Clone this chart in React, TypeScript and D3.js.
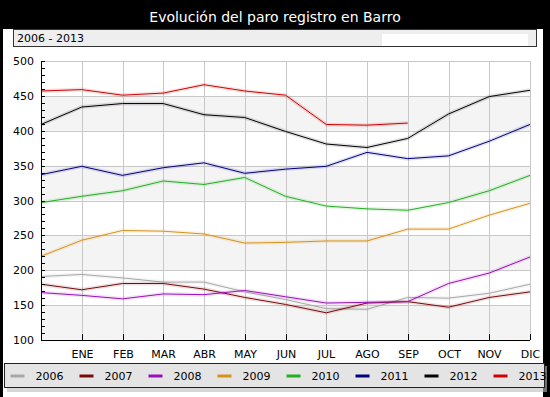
import { useEffect } from "react";
import * as d3 from "d3";

const months = ["", "ENE", "FEB", "MAR", "ABR", "MAY", "JUN", "JUL", "AGO", "SEP", "OCT", "NOV", "DIC"];
const years = ["2006", "2007", "2008", "2009", "2010", "2011", "2012", "2013"];
const colors = ["#a8a8a8", "#7a0a0a", "#9a10b8", "#d8921c", "#22b022", "#000080", "#000000", "#d00000"];

const s2006 = [191, 194, 189, 183, 183, 169, 158, 145, 144, 161, 160, 167, 180];
const s2007 = [180, 172, 181, 181, 173, 161, 151, 139, 153, 155, 147, 161, 169];
const s2008 = [168, 164, 159, 166, 165, 171, 162, 153, 154, 155, 181, 196, 219];
const s2009 = [220, 243, 257, 256, 252, 239, 240, 242, 242, 259, 259, 279, 296];
const s2010 = [297, 306, 314, 328, 323, 333, 306, 292, 288, 286, 297, 314, 336];
const s2011 = [337, 349, 336, 347, 354, 339, 345, 349, 369, 360, 364, 385, 409];
const s2012 = [409, 434, 439, 439, 423, 419, 399, 381, 376, 389, 424, 449, 458];
const s2013 = [457, 459, 451, 454, 466, 457, 451, 409, 408, 411];

const series = [s2006, s2007, s2008, s2009, s2010, s2011, s2012, s2013];
const yTicks = [100, 150, 200, 250, 300, 350, 400, 450, 500];

const W = 550;
const H = 397;
const margin = { top: 61, right: 20, bottom: 57, left: 41 };

const App = () => {
  useEffect(() => {
    document.body.style.margin = "0";
  }, []);

  const x = d3.scalePoint<string>().domain(months).range([margin.left, W - margin.right]);
  const y = d3.scaleLinear().domain([100, 500]).range([H - margin.bottom, margin.top]);
  const line = d3.line<number>()
    .x((_, i) => x(months[i])!)
    .y((d) => y(d));

  const x0 = margin.left;
  const x1 = W - margin.right;
  const font = "'DejaVu Sans', Verdana, sans-serif";

  return (
    <svg width={W} height={H} style={{ display: "block" }}>
      <rect x={0} y={0} width={W} height={H} fill="#000" />
      <rect x={3} y={29} width={540} height={H - 29} fill="#fff" />
      <text x={W / 2} y={22} fill="#fff" textAnchor="middle" fontFamily={font} fontSize={14}>
        Evolución del paro registro en Barro
      </text>

      {/* subtitle box */}
      <rect x={13.5} y={29.5} width={523} height={17} fill="#eeeeee" stroke="#333" />
      <rect x={382} y={34} width={146} height={12} fill="#fff" />
      <text x={17} y={42} fontFamily={font} fontSize={11} fill="#000">2006 - 2013</text>

      {/* bands */}
      {[100, 200, 300, 400].map((v) => (
        <rect key={v} x={x0} y={y(v + 50)} width={x1 - x0} height={y(v) - y(v + 50)} fill="#f4f4f4" />
      ))}

      {/* grid */}
      {yTicks.slice(1).map((v) => (
        <line key={v} x1={x0} x2={x1} y1={Math.round(y(v)) + 0.5} y2={Math.round(y(v)) + 0.5} stroke="#c8c8c8" />
      ))}
      {months.slice(1).map((m) => (
        <line key={m} x1={Math.round(x(m)!) + 0.5} x2={Math.round(x(m)!) + 0.5} y1={y(500)} y2={y(100)} stroke="#c8c8c8" />
      ))}

      {/* lines */}
      {series.map((s, i) => (
        <g key={years[i]}>
          <path d={line(s)!} fill="none" stroke={colors[i]} strokeOpacity={0.12} strokeWidth={4} />
          <path d={line(s)!} fill="none" stroke={colors[i]} strokeWidth={1} />
        </g>
      ))}

      {/* y axis */}
      <line x1={x0 + 0.5} x2={x0 + 0.5} y1={y(500)} y2={y(100)} stroke="#000" />
      {d3.range(100, 501, 10).map((v) => (
        <line key={v} x1={x0} x2={x0 + 4} y1={Math.round(y(v)) + 0.5} y2={Math.round(y(v)) + 0.5} stroke="#000" />
      ))}
      {yTicks.map((v) => (
        <text key={v} x={34} y={y(v) + 4} textAnchor="end" fontFamily={font} fontSize={11} fill="#000">{v}</text>
      ))}

      {/* x axis */}
      <line x1={x0} x2={x1} y1={Math.round(y(100)) + 0.5} y2={Math.round(y(100)) + 0.5} stroke="#000" />
      {months.slice(1).map((m) => (
        <g key={m} transform={`translate(${Math.round(x(m)!) + 0.5},${Math.round(y(100))})`}>
          <line y1={0} y2={-6} stroke="#000" />
          <text y={18} textAnchor="middle" fontFamily={font} fontSize={11} fill="#000">{m}</text>
        </g>
      ))}

      {/* legend */}
      <rect x={7} y={366} width={540} height={26} fill="#bdbdbd" opacity={0.6} />
      <rect x={4.5} y={363.5} width={540} height={24} fill="#e4e4e4" stroke="#222" />
      {years.map((yr, i) => (
        <g key={yr} transform={`translate(${10.5 + i * 69},376)`}>
          <line x1={0} x2={14} y1={0} y2={0} stroke={colors[i]} strokeWidth={3} />
          <text x={25} y={4} fontFamily={font} fontSize={11} fill="#000">{yr}</text>
        </g>
      ))}
    </svg>
  );
};

export default App;
